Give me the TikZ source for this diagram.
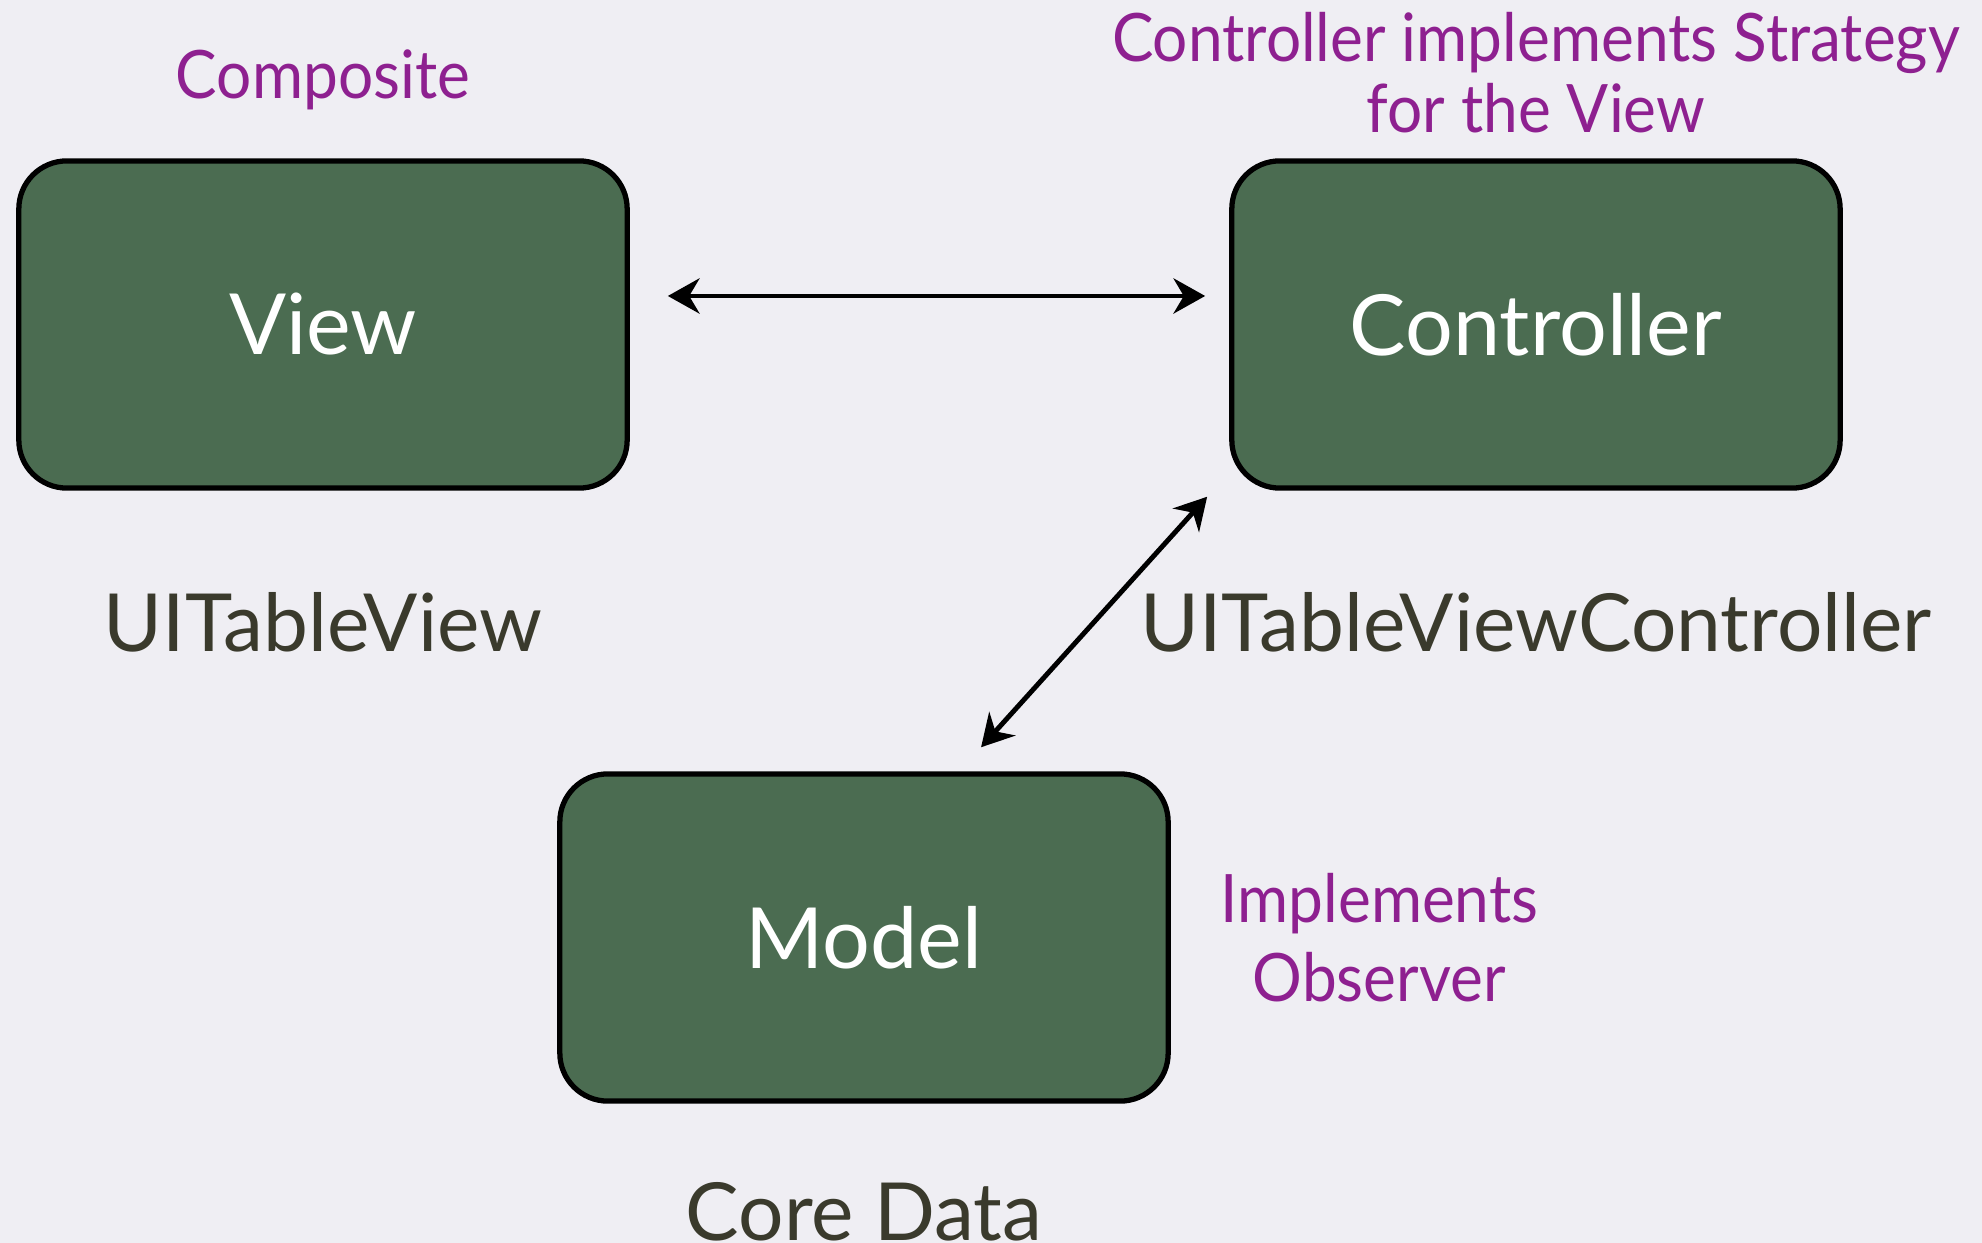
\documentclass[tikz,border=0pt]{standalone}
\usepackage{fontspec}
\setmainfont{Lato}
\newfontfamily\notefont[FakeStretch=0.93]{Lato}
\usepackage{tikz}
\usetikzlibrary{positioning,arrows.meta}
\definecolor{fondo}{HTML}{EFEEF3}
\definecolor{verde}{HTML}{4B6C51}
\definecolor{morado}{HTML}{8E2090}
\definecolor{oliva}{HTML}{3A3A2C}

\begin{document}
\begin{tikzpicture}[
  x=0.01cm, y=-0.01cm,
  box/.style={rectangle, rounded corners=4.8mm, draw=black, line width=1.5pt, fill=verde, minimum width=6.08cm, minimum height=3.27cm, text=white, font=\fontsize{24}{28}\selectfont},
  note/.style={text=morado, inner sep=0pt, align=center, font=\notefont\fontsize{19}{20}\selectfont},
  tag/.style={text=oliva, inner sep=0pt, font=\fontsize{22.8}{26}\selectfont},
  link/.style={{Stealth[length=9pt,width=10pt]}-{Stealth[length=9pt,width=10pt]}, line width=1.4pt}
]
\fill[fondo] (0,0) rectangle (1982,1243);
\useasboundingbox (0,0) rectangle (1982,1243);
\node[box] (view) at (323,324.5) {View};
\node[box, right=5.99cm of view] (ctrl) {Controller};
\node[box] (model) at (864,937.5) {Model};
\node[note, above=0.48cm of view] (composite) {Composite};
\node[note, above=0.25cm of ctrl] (strategy) {Controller implements Strategy\\for the View};
\node[note, right=0.49cm of model, font=\notefont\fontsize{19}{22.5}\selectfont] (observer) {Implements\\Observer};
\node[tag, below=1.01cm of view] (uitv) {UITableView};
\node[tag, below=1.01cm of ctrl] (uitvc) {UITableViewController};
\node[tag, below=0.78cm of model] (core) {Core Data};
\draw[link] ([xshift=0.38cm, yshift=0.285cm]view.east) -- ([xshift=-0.24cm, yshift=0.285cm]ctrl.west);
\draw[link] ([xshift=1.17cm, yshift=0.24cm]model.north) -- ([xshift=-0.22cm, yshift=-0.06cm]ctrl.south west);
\end{tikzpicture}
\end{document}
